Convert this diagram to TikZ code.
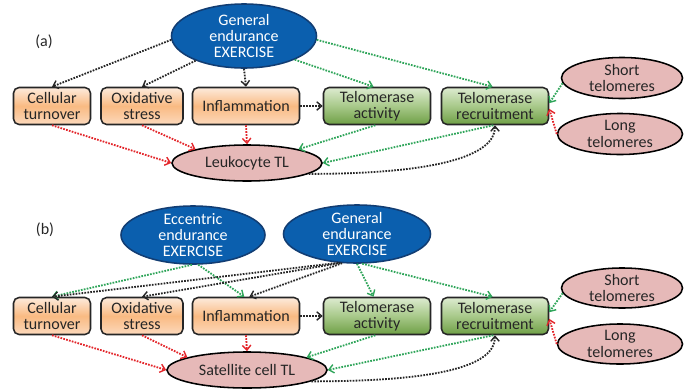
\documentclass[tikz,border=0pt]{standalone}
\usepackage{fontspec}
\setmainfont{Carlito}
\usepackage{xcolor}
\usetikzlibrary{shapes}
\usetikzlibrary{arrows.meta}
\usetikzlibrary{calc}
\usetikzlibrary{positioning}
\definecolor{exblue}{HTML}{0B5FAE}
\definecolor{exborder}{HTML}{123D73}
\definecolor{tlpink}{HTML}{E6B9B8}
\definecolor{ortop}{HTML}{FDEBDC}
\definecolor{ormid}{HTML}{F9BA82}
\definecolor{orbot}{HTML}{FCD9BC}
\definecolor{grtop}{HTML}{DDEBD0}
\definecolor{grmid}{HTML}{A8C98A}
\definecolor{grbot}{HTML}{6E9F45}
\definecolor{flred}{HTML}{E3262B}
\definecolor{flgreen}{HTML}{2FA55A}
\definecolor{flblack}{HTML}{262626}
\definecolor{txt}{HTML}{262626}

\begin{document}
\begin{tikzpicture}[x=0.025cm,y=-0.025cm,>={Straight Barb[length=3.5pt,width=6pt,line width=1pt]},
  every node/.style={font=\fontsize{11.4}{11.6}\selectfont,align=center,text=txt},
  exercise/.style={ellipse,draw=exborder,fill=exblue,line width=1.1pt,text=white,inner sep=-3pt},
  tlnode/.style={ellipse,draw=black,fill=tlpink,line width=1.1pt,inner sep=-3pt},
  orbox/.style={rectangle,rounded corners=4pt,draw=black!85,line width=1.1pt,
    top color=ortop,bottom color=orbot,middle color=ormid,minimum height=0.925cm,inner sep=0pt},
  grbox/.style={rectangle,rounded corners=4pt,draw=black!85,line width=1.1pt,
    top color=grtop,bottom color=grbot,middle color=grmid,minimum height=0.925cm,inner sep=0pt},
  flow/.style={->,line width=1.3pt,dash pattern=on 1.2pt off 0.9pt},
  blackflow/.style={flow,flblack},
  redflow/.style={flow,flred},
  greenflow/.style={flow,flgreen}]
\useasboundingbox (0,0) rectangle (685,389);

% (a) leukocytes
\node (labA) at (44,42) {(a)};
\node[exercise,minimum width=3.625cm,minimum height=1.6cm] (exA) at (244,36) {General\\endurance\\EXERCISE};
\node[orbox,minimum width=1.925cm] (ctA) at (52,106) {Cellular\\turnover};
\node[orbox,minimum width=2.05cm] (osA) at (142,106) {Oxidative\\stress};
\node[orbox,minimum width=2.675cm] (inA) at (246,106) {Inflammation};
\node[grbox,minimum width=2.675cm] (taA) at (377,106) {Telomerase\\activity};
\node[grbox,minimum width=2.675cm] (trA) at (495,106) {Telomerase\\recruitment};
\node[tlnode,minimum width=3.75cm,minimum height=0.9cm] (ltl) at (247,163) {Leukocyte TL};
\node[tlnode,minimum width=3.025cm,minimum height=1.025cm] (stA) at (622,78) {Short\\telomeres};
\node[tlnode,minimum width=3.125cm,minimum height=1.025cm] (lgA) at (620,134) {Long\\telomeres};

\draw[blackflow] (exA.183) -- (ctA.north);
\draw[blackflow] (exA.207) -- (osA.north);
\draw[blackflow] (exA.south) -- (inA.north);
\draw[greenflow] (exA.-25) -- (taA.100);
\draw[greenflow] (exA.-3) -- (trA.97);
\draw[blackflow] (inA.east) -- (taA.west);
\draw[redflow] (ctA.south) -- (ltl.west);
\draw[redflow] (osA.south) -- (ltl.165);
\draw[redflow] (inA.south) -- (ltl.north);
\draw[greenflow] (taA.265) -- (ltl.15);
\draw[greenflow] (trA.265) -- (ltl.east);
\draw[blackflow] (ltl.-10) .. controls +(130,0) and +(0,30) .. (trA.south);
\draw[greenflow] (stA.185) -- (trA.3);
\draw[redflow] (lgA.west) -- (trA.-3);

% (b) satellite cells
\node (labB) at (45,230) {(b)};
\node[exercise,minimum width=3.6cm,minimum height=1.45cm] (ecB) at (193,235) {Eccentric\\endurance\\EXERCISE};
\node[exercise,minimum width=3.675cm,minimum height=1.45cm] (geB) at (357,234) {General\\endurance\\EXERCISE};
\node[orbox,minimum width=1.925cm] (ctB) at (52,316) {Cellular\\turnover};
\node[orbox,minimum width=2.05cm] (osB) at (142,316) {Oxidative\\stress};
\node[orbox,minimum width=2.675cm] (inB) at (246,316) {Inflammation};
\node[grbox,minimum width=2.675cm] (taB) at (377,316) {Telomerase\\activity};
\node[grbox,minimum width=2.675cm] (trB) at (495,316) {Telomerase\\recruitment};
\node[tlnode,minimum width=4cm,minimum height=0.9cm] (sct) at (247,370) {Satellite cell TL};
\node[tlnode,minimum width=3.025cm,minimum height=1cm] (stB) at (622,288) {Short\\telomeres};
\node[tlnode,minimum width=3.125cm,minimum height=1cm] (lgB) at (620,344) {Long\\telomeres};

\draw[greenflow] (ecB.268) -- (ctB.north);
\draw[greenflow] (ecB.280) -- (inB.95);
\draw[blackflow] (geB.237) -- (ctB.north);
\draw[blackflow] (geB.240) -- (osB.north);
\draw[blackflow] (geB.243) -- (inB.80);
\draw[greenflow] (geB.south) -- (taB.100);
\draw[greenflow] (geB.-80) -- (trB.97);
\draw[blackflow] (inB.east) -- (taB.west);
\draw[redflow] (ctB.south) -- (sct.west);
\draw[redflow] (osB.south) -- (sct.168);
\draw[redflow] (inB.south) -- (sct.north);
\draw[greenflow] (taB.265) -- (sct.12);
\draw[greenflow] (trB.265) -- (sct.east);
\draw[blackflow] (sct.-10) .. controls +(130,0) and +(0,30) .. (trB.south);
\draw[greenflow] (stB.185) -- (trB.4);
\draw[redflow] (lgB.west) -- (trB.-3);
\end{tikzpicture}
\end{document}
